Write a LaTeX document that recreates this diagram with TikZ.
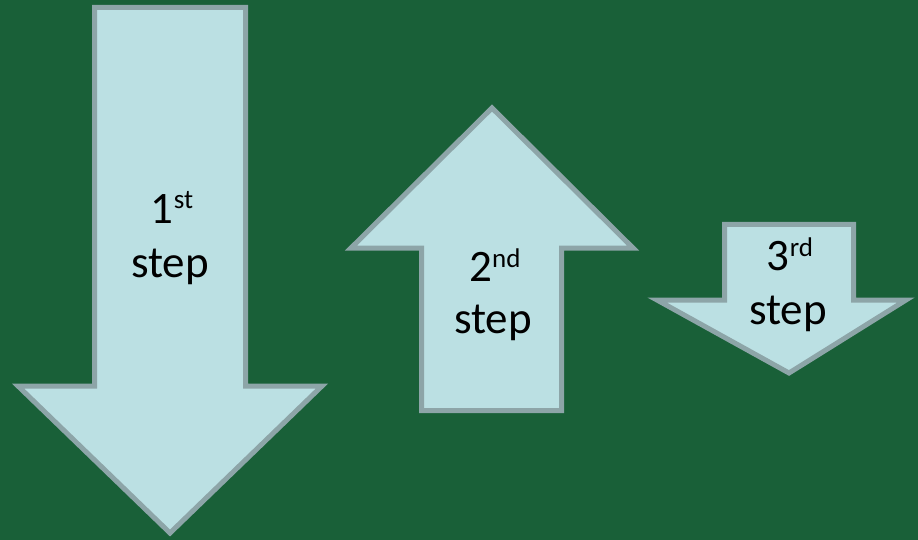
\documentclass[tikz,border=0pt]{standalone}
\usepackage{fontspec}
\setmainfont{Carlito}
\definecolor{bg}{RGB}{25,96,56}
\definecolor{arrowfill}{RGB}{187,224,227}
\definecolor{arrowline}{RGB}{141,165,168}
\newcommand{\supx}[1]{\raisebox{14pt}{\fontsize{27}{27}\selectfont #1}}
\tikzset{
  bigarrow/.style={fill=arrowfill, draw=arrowline, line width=5pt, line join=miter},
  steplabel/.style={anchor=base, inner sep=0pt, font=\fontsize{45}{50}\selectfont, text=black}
}
\begin{document}
\begin{tikzpicture}[x=1pt,y=-1pt]
\fill[bg] (0,0) rectangle (918,540);
\useasboundingbox (0,0) rectangle (918,540);
% arrow 1 (down)
\draw[bigarrow] (94.5,7.5) -- (245.5,7.5) -- (245.5,386) -- (322,386) -- (170,533)
  -- (18,386) -- (94.5,386) -- cycle;
% arrow 2 (up)
\draw[bigarrow] (421.5,410.5) -- (561.5,410.5) -- (561.5,248) -- (633,248) -- (492,108)
  -- (351,248) -- (421.5,248) -- cycle;
% arrow 3 (down)
\draw[bigarrow] (724.5,224.5) -- (853.5,224.5) -- (853.5,300) -- (906,300) -- (789,373)
  -- (657,300) -- (724.5,300) -- cycle;
% labels
\node[steplabel] (a1) at (172,223) {1\supx{st}};
\node[steplabel] (b1) at (170,277) {step};
\node[steplabel] (a2) at (495,281) {2\supx{nd}};
\node[steplabel] (b2) at (493,333) {step};
\node[steplabel] (a3) at (790,270) {3\supx{rd}};
\node[steplabel] (b3) at (788,324) {step};
\end{tikzpicture}
\end{document}
